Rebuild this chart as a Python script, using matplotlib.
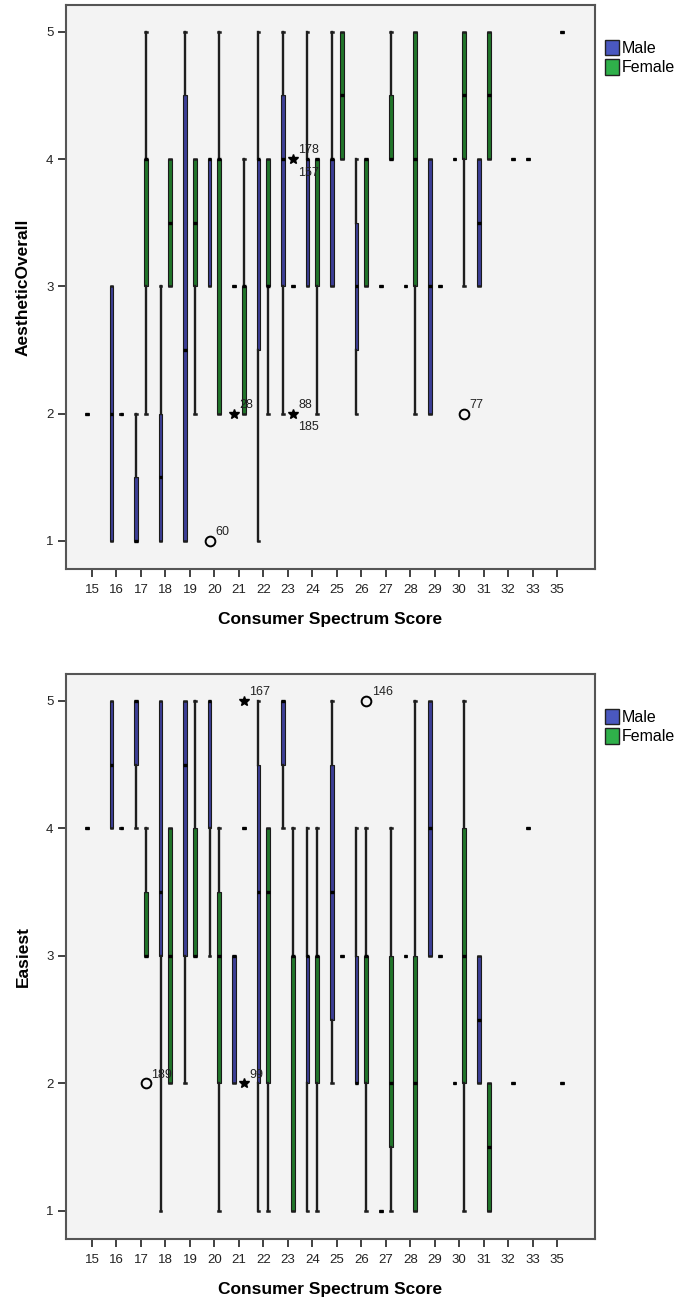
import matplotlib
matplotlib.use("Agg")
import matplotlib.pyplot as plt
from matplotlib.patches import Patch
import numpy as np

plt.rcParams['font.family'] = ['Liberation Sans', 'DejaVu Sans']

# Consumer Spectrum Score categories
categories = [15, 16, 17, 18, 19, 20, 21, 22, 23, 24, 25, 26, 27, 28, 29, 30, 31, 32, 33, 35]

N = None
# ---- AestheticOverall: five-number summaries (low whisker, Q1, median, Q3, high whisker)
aes_male_lo  = [2, 1, 1, 1,   1,   3, 3, 1,   2,   3, 3, 2,   3, 3, 2, 4, 3,   N, 4, N]
aes_male_q1  = [2, 1, 1, 1,   1,   3, 3, 2.5, 3,   3, 3, 2.5, 3, 3, 2, 4, 3,   N, 4, N]
aes_male_med = [2, 2, 1, 1.5, 2.5, 4, 3, 4,   4,   4, 4, 3,   3, 3, 3, 4, 3.5, N, 4, N]
aes_male_q3  = [2, 3, 1.5, 2, 4.5, 4, 3, 4,   4.5, 4, 4, 3.5, 3, 3, 4, 4, 4,   N, 4, N]
aes_male_hi  = [2, 3, 2, 3,   5,   4, 3, 5,   5,   5, 5, 4,   3, 3, 4, 4, 4,   N, 4, N]

aes_female_lo  = [N, 2, 2, 3,   2,   2, 2, 2, 3, 2, 4,   3, 4,   2, 3, 3,   4,   4, N, 5]
aes_female_q1  = [N, 2, 3, 3,   3,   2, 2, 3, 3, 3, 4,   3, 4,   3, 3, 4,   4,   4, N, 5]
aes_female_med = [N, 2, 4, 3.5, 3.5, 4, 3, 3, 3, 4, 4.5, 4, 4,   4, 3, 4.5, 4.5, 4, N, 5]
aes_female_q3  = [N, 2, 4, 4,   4,   4, 3, 4, 3, 4, 5,   4, 4.5, 5, 3, 5,   5,   4, N, 5]
aes_female_hi  = [N, 2, 5, 4,   4,   5, 4, 4, 3, 4, 5,   4, 5,   5, 3, 5,   5,   4, N, 5]

# outliers: (category, group, value, case label, marker)
aes_outliers = [
    (20, "Male", 1, "60", "o"),
    (21, "Male", 2, "28", "*"),
    (23, "Female", 4, "178|157", "*"),
    (23, "Female", 2, "88|185", "*"),
    (30, "Female", 2, "77", "o"),
]

# ---- Easiest
eas_male_lo  = [4, 4,   4,   1,   2,   3, 2, 1,   4,   1, 2,   2, 1, 3, 3, 2, 2,   N, 4, N]
eas_male_q1  = [4, 4,   4.5, 3,   3,   4, 2, 2,   4.5, 2, 2.5, 2, 1, 3, 3, 2, 2,   N, 4, N]
eas_male_med = [4, 4.5, 5,   3.5, 4.5, 5, 3, 3.5, 5,   3, 3.5, 2, 1, 3, 4, 2, 2.5, N, 4, N]
eas_male_q3  = [4, 5,   5,   5,   5,   5, 3, 4.5, 5,   3, 4.5, 3, 1, 3, 5, 2, 3,   N, 4, N]
eas_male_hi  = [4, 5,   5,   5,   5,   5, 3, 5,   5,   4, 5,   4, 1, 3, 5, 2, 3,   N, 4, N]

eas_female_lo  = [N, 4, 3,   2, 3, 1,   4, 1,   1, 1, 3, 1, 1,   1, 3, 1, 1,   2, N, 2]
eas_female_q1  = [N, 4, 3,   2, 3, 2,   4, 2,   1, 2, 3, 2, 1.5, 1, 3, 2, 1,   2, N, 2]
eas_female_med = [N, 4, 3,   3, 3, 3,   4, 3.5, 3, 3, 3, 3, 2,   2, 3, 3, 1.5, 2, N, 2]
eas_female_q3  = [N, 4, 3.5, 4, 4, 3.5, 4, 4,   3, 3, 3, 3, 3,   3, 3, 4, 2,   2, N, 2]
eas_female_hi  = [N, 4, 4,   4, 5, 4,   4, 4,   4, 4, 3, 4, 4,   5, 3, 5, 2,   2, N, 2]

eas_outliers = [
    (17, "Female", 2, "189", "o"),
    (21, "Female", 5, "167", "*"),
    (21, "Female", 2, "99", "*"),
    (26, "Female", 5, "146", "o"),
]

# legend swatch colours and the (darker-looking) fill of the narrow boxes
MALE_COLOR = "#4a58c0"
FEMALE_COLOR = "#2fb04a"
MALE_BOX = "#3c3e96"
FEMALE_BOX = "#21752a"
BG = "#f3f3f3"
OFFSET = 0.2
BOX_W = 0.15

W, H = 687, 1301
fig = plt.figure(figsize=(W / 100, H / 100), dpi=100)


def panel(rect, ylabel, series, outliers):
    l, t, r, b = rect
    ax = fig.add_axes([l / W, 1 - b / H, (r - l) / W, (b - t) / H])
    ax.set_facecolor(BG)
    for offset, color, (lo, q1, med, q3, hi) in series:
        stats, pos = [], []
        for i in range(len(categories)):
            if med[i] is None:
                continue
            stats.append(dict(whislo=lo[i], q1=q1[i], med=med[i], q3=q3[i], whishi=hi[i], fliers=[]))
            pos.append(i + offset)
        ax.bxp(stats, positions=pos, widths=BOX_W, patch_artist=True,
               showfliers=False, showcaps=True,
               boxprops=dict(facecolor=color, edgecolor="#1a1a1a", linewidth=0.8),
               whiskerprops=dict(color="#1e1e1e", linewidth=1.7),
               capprops=dict(color="#1e1e1e", linewidth=1.8),
               medianprops=dict(color="black", linewidth=2.4, solid_capstyle="butt"),
               manage_ticks=False)
    for cat, grp, val, lab, mk in outliers:
        x = categories.index(cat) + (-OFFSET if grp == "Male" else OFFSET)
        if mk == "o":
            ax.plot(x, val, marker="o", ms=7, mfc="none", mec="black", mew=1.4, ls="none", zorder=5)
        else:
            ax.plot(x, val, marker="*", ms=7.5, color="black", ls="none", zorder=5)
        parts = lab.split("|")
        ax.annotate(parts[0], (x, val), xytext=(4, 4), textcoords="offset points",
                    fontsize=9, color="#222222")
        if len(parts) > 1:
            ax.annotate(parts[1], (x, val), xytext=(4, -12), textcoords="offset points",
                        fontsize=9, color="#222222")
    ax.set_xlim(-1.06, 20.54)
    ax.set_ylim(0.78, 5.21)
    ax.set_xticks(range(len(categories)))
    ax.set_xticklabels([str(c) for c in categories], fontsize=9.5, color="#222222")
    ax.set_yticks([1, 2, 3, 4, 5])
    ax.set_yticklabels(["1", "2", "3", "4", "5"], fontsize=9.5, color="#222222")
    ax.tick_params(axis="both", direction="out", length=6, width=1.3, color="#333333")
    ax.tick_params(axis="x", pad=5)
    ax.tick_params(axis="y", pad=3)
    for s in ax.spines.values():
        s.set_color("#555555")
        s.set_linewidth(1.5)
    ax.set_xlabel("Consumer Spectrum Score", fontsize=12.5, fontweight="bold", labelpad=11)
    ax.set_ylabel(ylabel, fontsize=12.5, fontweight="bold", labelpad=11)
    handles = [Patch(facecolor=MALE_COLOR, edgecolor="#222222", label="Male"),
               Patch(facecolor=FEMALE_COLOR, edgecolor="#222222", label="Female")]
    ax.legend(handles=handles, loc="upper left", bbox_to_anchor=(1.0, 0.955),
              frameon=False, fontsize=11.5, handlelength=0.9, handleheight=1.1,
              handletextpad=0.2, labelspacing=0.2, borderaxespad=0.2)
    return ax


panel((66, 5, 595, 569), "AestheticOverall",
      [(-OFFSET, MALE_BOX, (aes_male_lo, aes_male_q1, aes_male_med, aes_male_q3, aes_male_hi)),
       (OFFSET, FEMALE_BOX, (aes_female_lo, aes_female_q1, aes_female_med, aes_female_q3, aes_female_hi))],
      aes_outliers)
panel((66, 674, 595, 1239), "Easiest",
      [(-OFFSET, MALE_BOX, (eas_male_lo, eas_male_q1, eas_male_med, eas_male_q3, eas_male_hi)),
       (OFFSET, FEMALE_BOX, (eas_female_lo, eas_female_q1, eas_female_med, eas_female_q3, eas_female_hi))],
      eas_outliers)

fig.savefig("out.png", dpi=100, facecolor="white")
